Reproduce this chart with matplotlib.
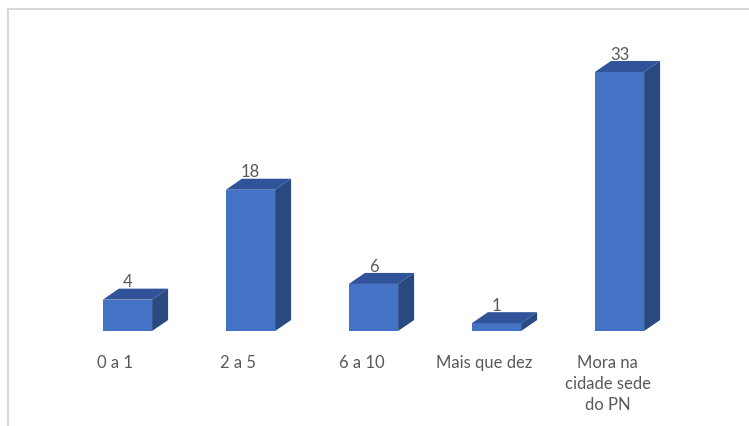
import matplotlib.pyplot as plt
from matplotlib.lines import Line2D

categories = ["0 a 1", "2 a 5", "6 a 10", "Mais que dez", "Mora na\ncidade sede\ndo PN"]
values = [4, 18, 6, 1, 33]

FRONT = "#4472c4"
TOP = "#30539a"
SIDE = "#284a80"
TEXT = "#595959"

half_w = 0.2       # half width of the front face, in category units
depth_x = 0.13     # 3D depth offset along x
depth_y = 1.4      # 3D depth offset along y (value units)

plt.rcParams["font.family"] = ["Lato", "DejaVu Sans"]

fig = plt.figure(figsize=(7.49, 4.26), dpi=100)
ax = fig.add_axes([0, 0, 1, 1])
ax.set_xlim(-1.0366, 5.0528)
ax.set_ylim(-12.10, 42.17)
ax.axis("off")

for i, (cat, v) in enumerate(zip(categories, values)):
    x0, x1 = i - half_w, i + half_w
    # front face
    ax.fill([x0, x1, x1, x0], [0, 0, v, v], color=FRONT, lw=0, zorder=3)
    # top face
    ax.fill([x0, x1, x1 + depth_x, x0 + depth_x], [v, v, v + depth_y, v + depth_y],
            color=TOP, lw=0, zorder=3)
    # right side face
    ax.fill([x1, x1 + depth_x, x1 + depth_x, x1], [0, depth_y, v + depth_y, v],
            color=SIDE, lw=0, zorder=3)

    ax.text(i, v + depth_y - 0.2, str(v), ha="center", va="bottom",
            fontsize=12, color=TEXT, zorder=4)
    ax.text(i - 0.0976, -3.1, cat, ha="center", va="top", fontsize=12,
            color=TEXT, linespacing=1.38)

# chart area border (only left and top edges fall inside the image)
fig.add_artist(Line2D([8 / 749, 8 / 749], [0, 417 / 426], transform=fig.transFigure,
                      color="#d9d9d9", lw=1.5))
fig.add_artist(Line2D([8 / 749, 1], [417 / 426, 417 / 426], transform=fig.transFigure,
                      color="#d9d9d9", lw=1.5))

fig.savefig("out.png", dpi=100, facecolor="white")
